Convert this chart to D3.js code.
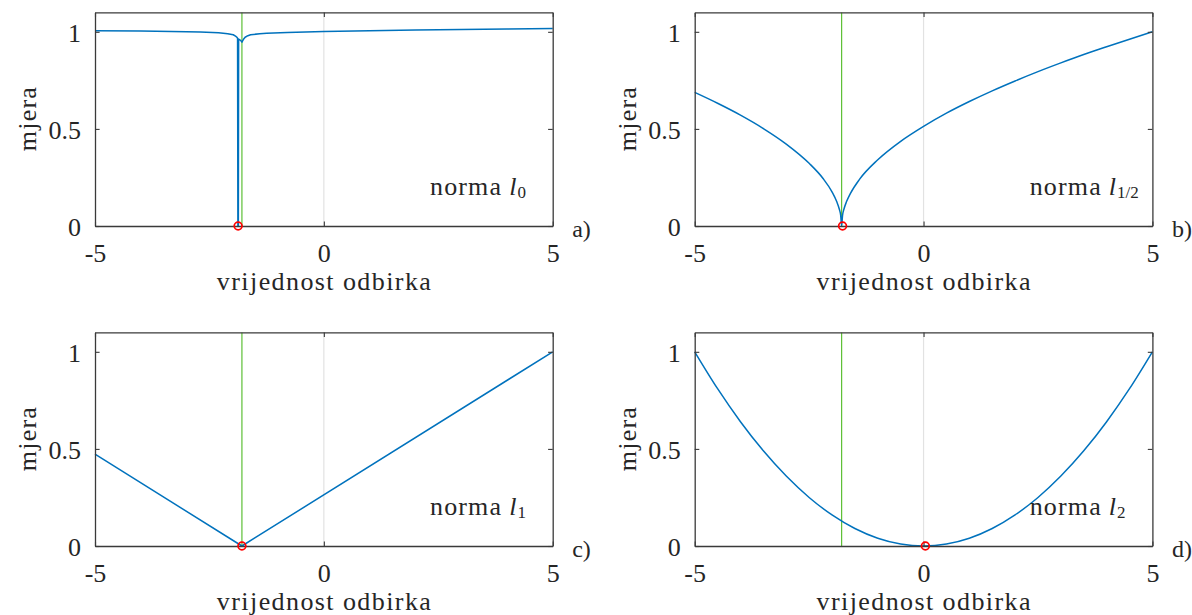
<!DOCTYPE html>
<html><head><meta charset="utf-8">
<script src="https://cdn.jsdelivr.net/npm/d3@7"></script>
<style>
body{margin:0;background:#fff}
</style>
</head><body>
<svg id="chart" width="1192" height="615" style="font-family:'Liberation Serif'"></svg>
<script>
// ---------- data ----------
const xDomain = [-5, 5];
const yDomain = [0, 1.1];
const xTicks = [-5, 0, 5];
const xTickLabels = ["-5", "0", "5"];
const yTicks = [0, 0.5, 1];
const yTickLabels = ["0", "0.5", "1"];
const xLabel = "vrijednost odbirka";
const yLabel = "mjera";
const panelLetters = ["a)", "b)", "c)", "d)"];
const normSubscripts = ["0", "1/2", "1", "2"];
const trueSample = -1.79;      // green vertical line
const zeroLine = 0;            // light gray vertical line

// norma l0
const l0X = [-5, -4, -3, -2.7, -2.3, -2.1, -1.98, -1.93, -1.9, -1.885, -1.878, -1.868, -1.862, -1.82, -1.79, -1.76, -1.72, -1.66, -1.6, -1.4, -1.25, -0.8, 0, 1, 2, 3, 4, 5];
const l0Y = [1.006, 1.004, 1.000, 0.999, 0.995, 0.990, 0.985, 0.978, 0.972, 0.967, 0, 0, 0.963, 0.956, 0.947, 0.960, 0.972, 0.980, 0.985, 0.990, 0.993, 0.997, 1.001, 1.005, 1.009, 1.012, 1.015, 1.017];
// norma l1/2
const l12X = [-5, -4.5, -4, -3.5, -3, -2.5, -2.2, -2.0, -1.9, -1.84, -1.81, -1.79, -1.77, -1.74, -1.68, -1.6, -1.4, -1.0, -0.5, 0, 0.5, 1, 1.5, 2, 2.5, 3, 3.5, 4, 4.5, 5];
const l12Y = [0.688, 0.632, 0.571, 0.502, 0.422, 0.323, 0.246, 0.176, 0.127, 0.086, 0.054, 0.0, 0.054, 0.086, 0.127, 0.167, 0.240, 0.341, 0.436, 0.513, 0.581, 0.641, 0.696, 0.747, 0.795, 0.840, 0.883, 0.923, 0.962, 1.0];
// norma l1
const l1X = [-5, -1.79, 5];
const l1Y = [0.473, 0.0, 1.0];
// norma l2
const l2X = [-5, -4.5, -4, -3.5, -3, -2.5, -2, -1.5, -1, -0.5, 0, 0.5, 1, 1.5, 2, 2.5, 3, 3.5, 4, 4.5, 5];
const l2Y = [1.0, 0.81, 0.64, 0.49, 0.36, 0.25, 0.16, 0.09, 0.04, 0.01, 0.0, 0.01, 0.04, 0.09, 0.16, 0.25, 0.36, 0.49, 0.64, 0.81, 1.0];
// minimum markers (red circles)
const minX = [-1.873, -1.77, -1.79, 0.04];
const minY = [0, 0, 0, 0];
// text anchor for "norma" label (data coords)
const noteX = 2.32, noteY = 0.16;

const seriesX = [l0X, l12X, l1X, l2X];
const seriesY = [l0Y, l12Y, l1Y, l2Y];
const curves = [d3.curveLinear, d3.curveMonotoneX, d3.curveLinear, d3.curveMonotoneX];

// ---------- layout ----------
const W = 457.7, H = 213.6;
const origins = [[95, 12.4], [694.7, 12.4], [95, 332.4], [694.7, 332.4]];
const FS = 26;
const FONT = "'Liberation Serif'";
const axisColor = "#3a3a3a";
const textColor = "#262626";

const svg = d3.select("#chart");

function styleAxis(sel) {
  sel.attr("font-family", null).attr("font-size", null);
  sel.select(".domain").attr("stroke", axisColor).attr("stroke-width", 1.3);
  sel.selectAll(".tick line").attr("stroke", axisColor).attr("stroke-width", 1.1);
  sel.selectAll("text").attr("fill", textColor).style("font-size", FS + "px").style("font-family", FONT);
}

origins.forEach(([ox, oy], i) => {
  const g = svg.append("g").attr("transform", `translate(${ox},${oy})`);
  const x = d3.scaleLinear().domain(xDomain).range([0, W]);
  const y = d3.scaleLinear().domain(yDomain).range([H, 0]);

  // zero line
  g.append("line")
    .attr("x1", x(zeroLine)).attr("x2", x(zeroLine))
    .attr("y1", y(0)).attr("y2", y(yDomain[1]))
    .attr("stroke", "#e2e2e2").attr("stroke-width", 1.2);

  // true sample line
  g.append("line")
    .attr("x1", x(trueSample)).attr("x2", x(trueSample))
    .attr("y1", y(0)).attr("y2", y(yDomain[1]))
    .attr("stroke", "#5cbf35").attr("stroke-width", 1.2);

  // curve
  const pts = seriesX[i].map((v, k) => [v, seriesY[i][k]]);
  const line = d3.line().x(d => x(d[0])).y(d => y(d[1])).curve(curves[i]);
  g.append("path").datum(pts).attr("d", line)
    .attr("fill", "none").attr("stroke", "#0072BD").attr("stroke-width", 1.5)
    .attr("stroke-linejoin", "round");

  // axes (box, inward ticks)
  const ax = g.append("g").attr("transform", `translate(0,${H})`)
    .call(d3.axisBottom(x).tickValues(xTicks).tickFormat((d, k) => xTickLabels[k]).tickSizeInner(-4.6).tickSizeOuter(0));
  styleAxis(ax);
  ax.selectAll("text").attr("y", 36).attr("dy", null);

  const axT = g.append("g")
    .call(d3.axisTop(x).tickValues(xTicks).tickFormat("").tickSizeInner(-4.6).tickSizeOuter(0));
  styleAxis(axT);

  const ay = g.append("g")
    .call(d3.axisLeft(y).tickValues(yTicks).tickFormat((d, k) => yTickLabels[k]).tickSizeInner(-4.6).tickSizeOuter(0));
  styleAxis(ay);
  ay.selectAll("text").attr("x", -14).attr("y", 9.5).attr("dy", null);

  const ayR = g.append("g").attr("transform", `translate(${W},0)`)
    .call(d3.axisRight(y).tickValues(yTicks).tickFormat("").tickSizeInner(-4.6).tickSizeOuter(0));
  styleAxis(ayR);

  // minimum marker
  g.append("circle")
    .attr("cx", x(minX[i])).attr("cy", y(minY[i])).attr("r", 3.9)
    .attr("fill", "none").attr("stroke", "#ff0000").attr("stroke-width", 1.7);

  // axis labels
  g.append("text").attr("x", W / 2).attr("y", H + 64)
    .attr("text-anchor", "middle").attr("fill", textColor)
    .style("font-size", FS + "px").style("font-family", FONT)
    .attr("textLength", 214).attr("lengthAdjust", "spacing")
    .text(xLabel);
  g.append("text").attr("transform", `translate(-59,${H / 2}) rotate(-90)`)
    .attr("text-anchor", "middle").attr("fill", textColor)
    .style("font-size", FS + "px").style("font-family", FONT)
    .attr("textLength", 64).attr("lengthAdjust", "spacing")
    .text(yLabel);

  // norm annotation
  const t = g.append("text").attr("x", x(noteX)).attr("y", y(noteY)).attr("fill", textColor)
    .style("font-size", FS + "px").style("font-family", FONT);
  t.append("tspan").text("norma").attr("textLength", 71).attr("lengthAdjust", "spacing");
  t.append("tspan").attr("dx", 7).style("font-style", "italic").text("l");
  t.append("tspan").attr("dx", 1).attr("dy", 3).style("font-size", "17px").text(normSubscripts[i]);

  // panel letter
  g.append("text").attr("x", W + 19.5).attr("y", H + 11).attr("fill", textColor)
    .style("font-size", "24px").style("font-family", FONT).text(panelLetters[i]);
});
</script>
</body></html>
